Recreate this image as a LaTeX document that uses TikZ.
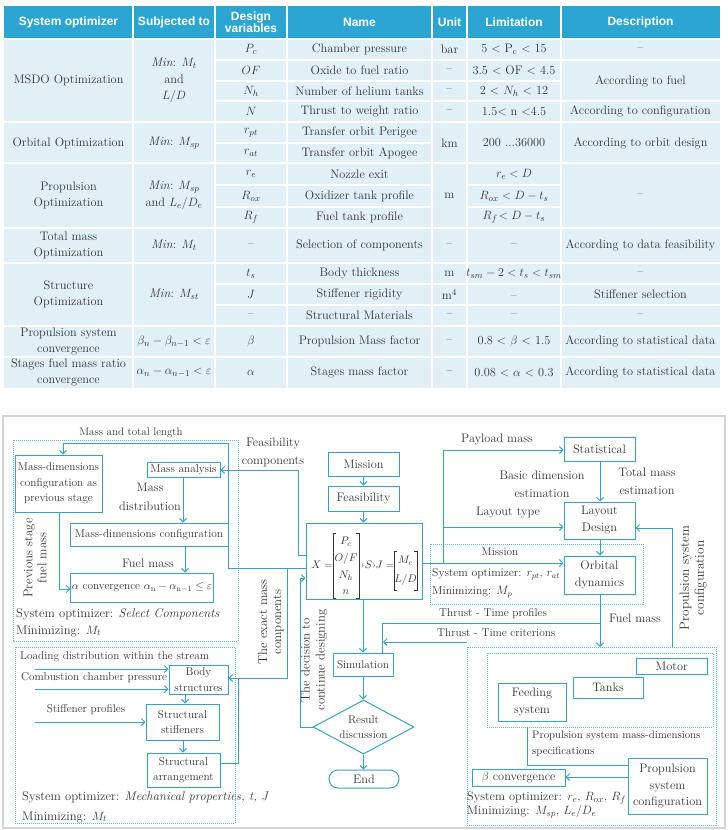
\documentclass[tikz,border=0pt]{standalone}
\usepackage{amsmath}
\usepackage{fontspec}
\newfontfamily\hdrfont{Liberation Sans}
\usetikzlibrary{arrows.meta,shapes.geometric}
\definecolor{hdr}{HTML}{2DA5D2}
\definecolor{tbg}{HTML}{E1EFF7}
\definecolor{fc}{HTML}{3A9FCB}
\definecolor{dc}{HTML}{5DB5DC}
\definecolor{txc}{HTML}{333333}
\definecolor{frm}{HTML}{D4D4D4}
\newcounter{cc}
\newcommand\tc[3]{\stepcounter{cc}\node[cell] (c\arabic{cc}) at (#1,#2) {#3};}
\newcommand\hc[3]{\stepcounter{cc}\node[hcell] (c\arabic{cc}) at (#1,#2) {#3};}
\begin{document}
\begin{tikzpicture}[x=1pt,y=-1pt,
  cell/.style={font=\fontsize{12.3}{16.5}\selectfont, text=txc, align=center, inner sep=0pt},
  hcell/.style={font=\hdrfont\bfseries\fontsize{12}{13}\selectfont, text=white, align=center, inner sep=0pt},
  f11/.style={font=\fontsize{11.3}{15.5}\selectfont},
  f12/.style={font=\fontsize{12.3}{17}\selectfont},
  box/.style={draw=fc, line width=1pt, fill=white, inner sep=1pt, align=center, text=txc},
  lbl/.style={text=txc, inner sep=0pt, align=center},
  mx/.style={text=txc, inner sep=0pt, font=\fontsize{10.8}{12}\selectfont},
  brk/.style={draw=txc, line width=0.6pt},
  dbox/.style={draw=dc, line width=0.8pt, dash pattern=on 1pt off 1pt},
  conn/.style={draw=fc, line width=1pt},
  arr/.style={conn, -{Straight Barb[length=3.5pt,width=7pt]}}]
\useasboundingbox (0,0) rectangle (728,830);
% ---------------- table ----------------
\fill[hdr] (4,6) rectangle (720,39);
\fill[tbg] (4,39) rectangle (720,388);
\begin{scope}[white, line width=1.2pt]
\foreach \x in {133,215,287,432,467,561} \draw (\x,6) -- (\x,388);
\foreach \y in {39,122,163,228,263,326,357} \draw (4,\y) -- (720,\y);
\foreach \y in {60,101,284,305} \draw (215,\y) -- (720,\y);
\draw (215,81) -- (561,81);
\draw (215,143) -- (432,143);
\foreach \y in {185,207} {\draw (215,\y) -- (432,\y); \draw (467,\y) -- (561,\y);}
\end{scope}
\hc{68.5}{22.5}{System optimizer}
\hc{174}{22.5}{Subjected to}
\hc{251}{22.5}{Design\\[-1pt]variables}
\hc{359.5}{22.5}{Name}
\hc{449.5}{22.5}{Unit}
\hc{514}{22.5}{Limitation}
\hc{640.5}{22.5}{Description}
% column 1
\tc{68.5}{80.5}{MSDO Optimization}
\tc{68.5}{143}{Orbital Optimization}
\tc{68.5}{195.5}{Propulsion\\Optimization}
\tc{68.5}{245.5}{Total mass\\Optimization}
\tc{68.5}{294.5}{Structure\\Optimization}
\tc{68.5}{341.5}{Propulsion system\\convergence}
\tc{68.5}{372.5}{Stages fuel mass ratio\\convergence}
% column 2
\tc{174}{80.5}{\textit{Min}: $M_t$\\and\\$L/D$}
\tc{174}{143}{\textit{Min}: $M_{sp}$}
\tc{174}{195.5}{\textit{Min}: $M_{sp}$\\and $L_e/D_e$}
\tc{174}{245.5}{\textit{Min}: $M_t$}
\tc{174}{294.5}{\textit{Min}: $M_{st}$}
\tc{174}{341.5}{$\beta_n-\beta_{n-1}<\varepsilon$}
\tc{174}{372.5}{$\alpha_n-\alpha_{n-1}<\varepsilon$}
% column 3
\tc{251}{49.5}{$P_c$}
\tc{251}{70.5}{$OF$}
\tc{251}{91}{$N_h$}
\tc{251}{111.5}{$N$}
\tc{251}{132.5}{$r_{pt}$}
\tc{251}{153}{$r_{at}$}
\tc{251}{174}{$r_e$}
\tc{251}{196}{$R_{ox}$}
\tc{251}{217.5}{$R_f$}
\tc{251}{245.5}{--}
\tc{251}{273.5}{$t_s$}
\tc{251}{294.5}{$J$}
\tc{251}{315.5}{--}
\tc{251}{341.5}{$\beta$}
\tc{251}{372.5}{$\alpha$}
% column 4
\tc{359.5}{49.5}{Chamber pressure}
\tc{359.5}{70.5}{Oxide to fuel ratio}
\tc{359.5}{91}{Number of helium tanks}
\tc{359.5}{111.5}{Thrust to weight ratio}
\tc{359.5}{132.5}{Transfer orbit Perigee}
\tc{359.5}{153}{Transfer orbit Apogee}
\tc{359.5}{174}{Nozzle exit}
\tc{359.5}{196}{Oxidizer tank profile}
\tc{359.5}{217.5}{Fuel tank profile}
\tc{359.5}{245.5}{Selection of components}
\tc{359.5}{273.5}{Body thickness}
\tc{359.5}{294.5}{Stiffener rigidity}
\tc{359.5}{315.5}{Structural Materials}
\tc{359.5}{341.5}{Propulsion Mass factor}
\tc{359.5}{372.5}{Stages mass factor}
% column 5
\tc{449.5}{49.5}{bar}
\tc{449.5}{70.5}{--}
\tc{449.5}{91}{--}
\tc{449.5}{111.5}{--}
\tc{449.5}{143}{km}
\tc{449.5}{195.5}{m}
\tc{449.5}{245.5}{--}
\tc{449.5}{273.5}{m}
\tc{449.5}{294.5}{m$^4$}
\tc{449.5}{315.5}{--}
\tc{449.5}{341.5}{--}
\tc{449.5}{372.5}{--}
% column 6
\tc{514}{49.5}{5 < P$_{\mathrm{c}}$ < 15}
\tc{514}{70.5}{3.5 < OF < 4.5}
\tc{514}{91}{2 < $N_h$ < 12}
\tc{514}{111.5}{1.5< n <4.5}
\tc{514}{143}{200 ...36000}
\tc{514}{174}{$r_e<D$}
\tc{514}{196}{$R_{ox}<D-t_s$}
\tc{514}{217.5}{$R_f\!<D-t_s$}
\tc{514}{245.5}{--}
\tc{514}{273.5}{$t_{sm}-2<t_s<t_{sm}$}
\tc{514}{298}{--}
\tc{514}{315.5}{--}
\tc{514}{341.5}{0.8 < $\beta$ < 1.5}
\tc{514}{372.5}{0.08 < $\alpha$ < 0.3}
% column 7
\tc{640.5}{49.5}{--}
\tc{640.5}{81}{According to fuel}
\tc{640.5}{111.5}{According to configuration}
\tc{640.5}{143}{According to orbit design}
\tc{640.5}{195.5}{--}
\tc{640.5}{245.5}{According to data feasibility}
\tc{640.5}{273.5}{--}
\tc{640.5}{294.5}{Stiffener selection}
\tc{640.5}{315.5}{--}
\tc{640.5}{341.5}{According to statistical data}
\tc{640.5}{372.5}{According to statistical data}
% ---------------- flowchart ----------------
\draw[frm, line width=1.2pt] (3,416) rectangle (725,828);
\draw[dbox] (13,440) rectangle (238,641);
\draw[dbox] (15,647) rectangle (235,823);
\draw[dbox] (430,544) rectangle (643,604);
\draw[dbox] (467,647) rectangle (716,825);
\draw[dbox] (487,653) rectangle (713,727);
% boxes
\node[box,f11,minimum width=87,minimum height=57] (prev) at (58.5,483.5) {Mass-dimensions\\configuration as\\previous stage};
\node[box,f11,minimum width=73,minimum height=15,inner sep=0pt] (massan) at (183.5,469.5) {Mass analysis};
\node[box,f11,minimum width=158,minimum height=23] (mdc) at (149,534.5) {Mass-dimensions configuration};
\node[box,f11,minimum width=136,minimum height=29] (alpha) at (142,587.5) {$\alpha$ convergence $\alpha_{\mathrm{n}}-\alpha_{\mathrm{n-1}}\leq\varepsilon$};
\node[box,f11,minimum width=59,minimum height=29,inner sep=0pt] (body) at (198.5,679.5) {Body\\structures};
\node[box,f11,minimum width=73,minimum height=36] (stiff) at (182.5,722) {Structural\\stiffeners};
\node[box,f11,minimum width=73,minimum height=34] (arrg) at (183.5,770) {Structural\\arrangement};
\node[box,f12,minimum width=71,minimum height=24] (mission) at (363.5,464) {Mission};
\node[box,f12,minimum width=71,minimum height=25] (feas) at (363.5,498.5) {Feasibility};
\node[box,minimum width=116,minimum height=76,inner sep=0pt] (X) at (364,561) {};
% X box content
\node[mx] (xeq) at (322,565) {$X=$};
\node[mx] (p1) at (346,542) {$P_c$};
\node[mx] (p2) at (346,559) {$O/F$};
\node[mx] (p3) at (346,576) {$N_h$};
\node[mx] (p4) at (346,592) {$n$};
\node[mx] (ss) at (368.5,565) {›$S$›};
\node[mx] (jeq) at (385,565) {$J=$};
\node[mx] (q1) at (405.5,561) {$M_c$};
\node[mx] (q2) at (405.5,580) {$L/D$};
\draw[brk] (336,533) -- (333,533) -- (333,598) -- (336,598);
\draw[brk] (356,533) -- (359,533) -- (359,598) -- (356,598);
\draw[brk] (397,551) -- (394,551) -- (394,590) -- (397,590);
\draw[brk] (414,551) -- (417,551) -- (417,590) -- (414,590);
\node[box,f11,minimum width=60,minimum height=23] (sim) at (363,664.5) {Simulation};
\node[box,f11,diamond,aspect=1.87,minimum width=101,minimum height=54,inner sep=0pt] (res) at (363.5,727) {Result\\discussion};
\node[box,f12,minimum width=70,minimum height=18,inner sep=0pt,rounded corners=9pt] (end) at (364,779) {End};
\node[box,f12,minimum width=71,minimum height=24] (stat) at (599.5,449) {Statistical};
\node[box,f12,minimum width=71,minimum height=37] (layout) at (599.5,520.5) {Layout\\Design};
\node[box,f12,minimum width=71,minimum height=38] (orbital) at (599.5,575) {Orbital\\dynamics};
\node[box,f12,minimum width=71,minimum height=16,inner sep=0pt] (motor) at (671.5,666) {Motor};
\node[box,f12,minimum width=70,minimum height=21] (tanks) at (608,687.5) {Tanks};
\node[box,f12,minimum width=68,minimum height=38] (feeding) at (532,702) {Feeding\\system};
\node[box,font=\fontsize{12.3}{16.5}\selectfont,minimum width=79,minimum height=56,inner sep=0pt] (propconf) at (667.5,786) {Propulsion\\system\\configuration};
\node[box,f12,minimum width=93,minimum height=17,inner sep=0pt] (beta) at (518.5,777.5) {$\beta$ convergence};
% free ends
\coordinate (in1) at (35,669);
\coordinate (in2) at (35,689);
\coordinate (in3) at (35,722);
\coordinate (d4top) at (600,647);
\coordinate (crit) at (467,642);
\coordinate (pc1) at (672,647);
\coordinate (d5b) at (527,727);
% connectors
\draw[arr] (X.west |- 0,568) -- (228,568) -- (228,443) -- (63,443) -- (prev.north -| 63,0);
\draw[arr] (287,568) -- (287,678) -- (body.east |- 0,678);
\draw[conn] (arrg.east |- 0,763) -- (238,763) -- (238,678);
\draw[arr] (X.west |- 0,555) -- (298,555) -- (298,470) -- (massan.east |- 0,470);
\draw[arr] (res.west) -- (300,727) -- (300,578) -- (X.west |- 0,578);
\draw[arr] (massan.south -| 183,0) -- (mdc.north -| 183,0);
\draw[arr] (mdc.south -| 185,0) -- (alpha.north -| 185,0);
\draw[arr] (prev.south -| 59,0) -- (59,589) -- (alpha.west |- 0,589);
\draw[arr] (in1) -- (body.west |- in1);
\draw[arr] (in2) -- (body.west |- in2);
\draw[arr] (in3) -- (stiff.west |- in3);
\draw[arr] (body.south -| 185,0) -- (stiff.north -| 185,0);
\draw[arr] (stiff.south -| 183,0) -- (arrg.north -| 183,0);
\draw[arr] (mission.south) -- (feas.north);
\draw[arr] (feas.south) -- (X.north -| feas.south);
\draw[arr] (X.south -| 363,0) -- (sim.north -| 363,0);
\draw[arr] (sim.south) -- (res.north -| sim.south);
\draw[arr] (res.south) -- (end.north -| res.south);
\draw[arr] (X.east |- 0,563) -- (orbital.west |- 0,563);
\draw[arr] (443,563) -- (443,450) -- (stat.west |- 0,450);
\draw[arr] (443,527) -- (layout.west |- 0,527);
\draw[arr] (stat.south -| 600,0) -- (layout.north -| 600,0);
\draw[arr] (layout.south -| 600,0) -- (orbital.north -| 600,0);
\draw[arr] (orbital.south -| 600,0) -- (d4top);
\draw[conn] (600,623) -- (382,623) -- (sim.north -| 382,0);
\draw[arr] (crit) -- (383,642);
\draw[arr] (pc1) -- (672,528) -- (layout.east |- 0,528);
\draw[conn] (d5b) -- (527,765) -- (propconf.west |- 0,765);
\draw[arr] (propconf.west |- 0,777) -- (beta.east |- 0,777);
% labels
\node[lbl,font=\fontsize{11}{12}\selectfont] (l1) at (131,433) {Mass and total length};
\node[lbl,font=\fontsize{12.3}{18}\selectfont] (l2) at (273,452) {Feasibility\\components};
\node[lbl,font=\fontsize{12.3}{19}\selectfont] (l3) at (150,496.5) {Mass\\distribution};
\node[lbl,f12] (l4) at (148,563) {Fuel mass};
\node[lbl,font=\fontsize{12.8}{14}\selectfont,rotate=90] (l5) at (35,558) {Previous stage\\fuel mass};
\node[lbl,font=\fontsize{12.6}{14}\selectfont,anchor=west] (l6) at (16,614) {System optimizer: \textit{Select Components}};
\node[lbl,font=\fontsize{12.6}{14}\selectfont,anchor=west] (l7) at (16,631) {Minimizing: $M_t$};
\node[lbl,f11,anchor=west] (l8) at (20,657) {Loading distribution within the stream};
\node[lbl,f11,anchor=west] (l9) at (21,678) {Combustion chamber pressure};
\node[lbl,f11] (l10) at (86,710) {Stiffener profiles};
\node[lbl,font=\fontsize{12.6}{14}\selectfont,anchor=west] (l11) at (22,797) {System optimizer: \textit{Mechanical properties, t, J}};
\node[lbl,font=\fontsize{12.6}{14}\selectfont,anchor=west] (l12) at (22,817) {Minimizing: $M_t$};
\node[lbl,font=\fontsize{12.8}{14}\selectfont,rotate=90] (l13) at (271,622) {The exact mass\\components};
\node[lbl,font=\fontsize{12.8}{15}\selectfont,rotate=90] (l14) at (314,660) {The decision to\\continue designing};
\node[lbl,f12] (l15) at (497,439) {Payload mass};
\node[lbl,font=\fontsize{12.3}{18}\selectfont] (l16) at (542,484) {Basic dimension\\estimation};
\node[lbl,font=\fontsize{12.3}{18}\selectfont] (l17) at (647,481) {Total mass\\estimation};
\node[lbl,f12] (l18) at (508,513) {Layout type};
\node[lbl,f11] (l19) at (500,552) {Mission};
\node[lbl,font=\fontsize{11.6}{13}\selectfont,anchor=west] (l20) at (432,574) {System optimizer: $r_{pt}$, $r_{at}$};
\node[lbl,font=\fontsize{11.6}{13}\selectfont,anchor=west] (l21) at (432,592) {Minimizing: $M_p$};
\node[lbl,f11,anchor=west] (l22) at (439,614) {Thrust - Time profiles};
\node[lbl,f11,anchor=west] (l23) at (437,633) {Thrust - Time criterions};
\node[lbl,f12] (l24) at (635,618) {Fuel mass};
\node[lbl,font=\fontsize{13.3}{15}\selectfont,rotate=90] (l25) at (693,578) {Propulsion system\\configuration};
\node[lbl,font=\fontsize{10.8}{16}\selectfont,anchor=north west,align=left] (l26) at (532,731) {Propulsion system mass-dimensions\\specifications};
\node[lbl,f12,anchor=west] (l27) at (467,798) {System optimizer: $r_e$, $R_{ox}$, $R_f$};
\node[lbl,f12,anchor=west] (l28) at (467,812) {Minimizing: $M_{sp}$, $L_e/D_e$};
\end{tikzpicture}
\end{document}
